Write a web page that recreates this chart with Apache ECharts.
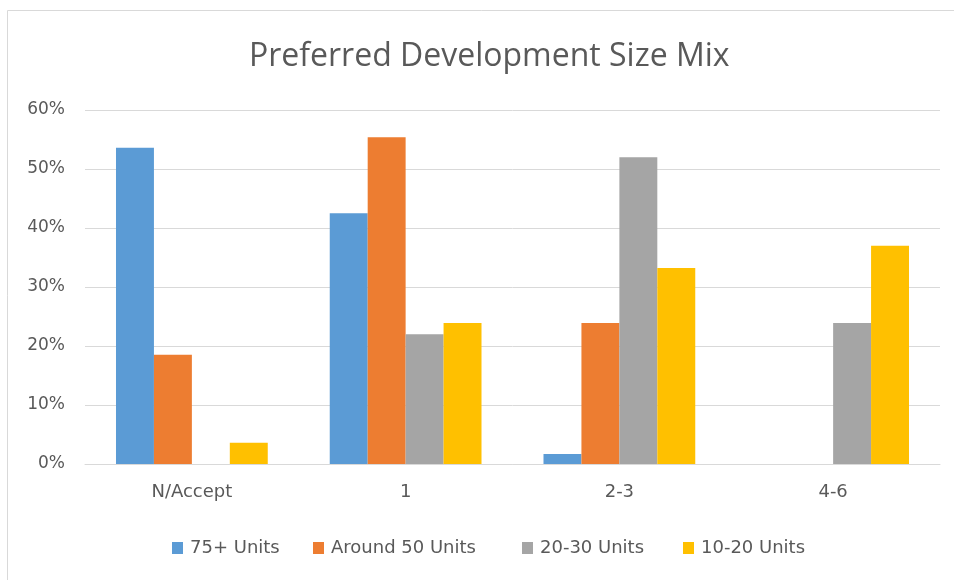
<!DOCTYPE html>
<html>
<head>
<meta charset="utf-8">
<script src="https://cdn.jsdelivr.net/npm/echarts@6/dist/echarts.min.js"></script>
<style>
    html, body { margin: 0; padding: 0; background: #fff; }
    #chart { width: 954px; height: 580px; }
</style>
</head>
<body>
<div id="chart"></div>
<script>
// data
const categories = ['N/Accept', '1', '2-3', '4-6']
const seriesNames = ['75+ Units', 'Around 50 Units', '20-30 Units', '10-20 Units']
const units75 = [53.6, 42.5, 1.7, 0]
const around50 = [18.5, 55.4, 23.9, 0]
const units2030 = [0, 22.0, 52.0, 23.9]
const units1020 = [3.6, 23.9, 33.2, 37.0]
const yTicks = [0, 10, 20, 30, 40, 50, 60]

const colors = ['#5b9bd5', '#ed7d31', '#a5a5a5', '#ffc000']
const values = [units75, around50, units2030, units1020]
const labelFont = 'DejaVu Sans'
// left edge of each legend entry, so the spacing follows the original
const legendLeft = [172, 313, 522, 683]

const chart = echarts.init(document.getElementById('chart'))
const option = {
    animation: false,
    color: colors,
    textStyle: { fontFamily: labelFont },
    title: {
        text: 'Preferred Development Size Mix',
        left: 244,
        top: 36,
        textStyle: {
            fontFamily: 'Open Sans',
            fontSize: 32,
            fontWeight: 'normal',
            color: '#595959',
        },
    },
    graphic: [
        {
            type: 'rect',
            shape: { x: 7.5, y: 10.5, width: 960, height: 600 },
            style: { fill: 'none', stroke: '#d9d9d9', lineWidth: 1 },
            silent: true,
        },
    ],
    legend: seriesNames.map((name, i) => ({
        top: 539,
        left: legendLeft[i],
        padding: 0,
        itemWidth: 11,
        itemHeight: 12,
        icon: 'rect',
        textStyle: { fontSize: 18, color: '#595959', fontFamily: labelFont, padding: [0, 0, 0, 2] },
        data: [name],
    })),
    grid: {
        left: 85,
        right: 14,
        top: 110,
        bottom: 116,
    },
    xAxis: {
        type: 'category',
        data: categories,
        axisTick: { show: false },
        axisLine: { lineStyle: { color: '#d9d9d9' } },
        axisLabel: { color: '#595959', fontSize: 18, margin: 19 },
    },
    yAxis: {
        type: 'value',
        min: yTicks[0],
        max: yTicks[yTicks.length - 1],
        interval: 10,
        axisLine: { show: false },
        axisTick: { show: false },
        splitLine: { lineStyle: { color: '#d9d9d9' } },
        axisLabel: { color: '#595959', fontSize: 17, margin: 20, formatter: '{value}%' },
    },
    series: seriesNames.map((name, i) => ({
        name: name,
        type: 'bar',
        data: values[i],
        barGap: '0%',
        barCategoryGap: '29%',
    })),
}
chart.setOption(option)
</script>
</body>
</html>
